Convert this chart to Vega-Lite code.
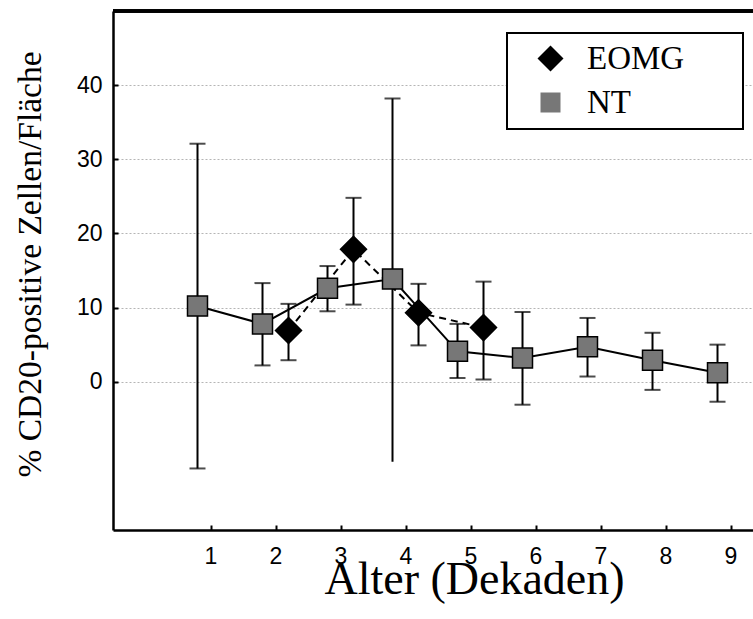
{
  "$schema": "https://vega.github.io/schema/vega-lite/v6.json",
  "autosize": "none",
  "width": 640,
  "height": 519,
  "padding": {"left": 113, "top": 11, "right": 0, "bottom": 89},
  "background": "white",
  "data": {
    "values": [
      {"group": "NT", "x": 0.8, "y": 10.2, "lo": -11.7, "hi": 32.1},
      {"group": "NT", "x": 1.8, "y": 7.8, "lo": 2.2, "hi": 13.3},
      {"group": "NT", "x": 2.8, "y": 12.6, "lo": 9.5, "hi": 15.6},
      {"group": "NT", "x": 3.8, "y": 13.85, "lo": -10.8, "hi": 38.2},
      {"group": "NT", "x": 4.8, "y": 4.1, "lo": 0.5, "hi": 7.8},
      {"group": "NT", "x": 5.8, "y": 3.2, "lo": -3.1, "hi": 9.4},
      {"group": "NT", "x": 6.8, "y": 4.7, "lo": 0.7, "hi": 8.6},
      {"group": "NT", "x": 7.8, "y": 2.9, "lo": -1.1, "hi": 6.6},
      {"group": "NT", "x": 8.8, "y": 1.2, "lo": -2.7, "hi": 5.0},
      {"group": "EOMG", "x": 2.2, "y": 6.9, "lo": 2.9, "hi": 10.5},
      {"group": "EOMG", "x": 3.2, "y": 17.85, "lo": 10.4, "hi": 24.8},
      {"group": "EOMG", "x": 4.2, "y": 9.3, "lo": 4.9, "hi": 13.2},
      {"group": "EOMG", "x": 5.2, "y": 7.3, "lo": 0.3, "hi": 13.5}
    ]
  },
  "layer": [
    {
      "mark": {"type": "rule", "color": "black", "strokeWidth": 2},
      "encoding": {
        "x": {"field": "x", "type": "quantitative", "scale": {"domain": [-0.5, 9.346], "nice": false, "zero": false},
          "axis": {"values": [1,2,3,4,5,6,7,8,9], "format": "d", "title": "Alter (Dekaden)", "grid": false,
            "titleX": 361, "titleY": 63, "titleAlign": "center", "titleBaseline": "alphabetic",
            "titleFont": "Liberation Serif", "titleFontSize": 46, "titleFontWeight": "normal", "titleColor": "black",
            "labelPadding": 20}},
        "y": {"field": "lo", "type": "quantitative", "scale": {"domain": [-20, 50], "nice": false, "zero": false},
          "axis": {"values": [0,10,20,30,40], "format": "d", "title": "% CD20-positive Zellen/Fläche", "grid": true,
            "titleX": -73, "titleY": 253, "titleAngle": -90, "titleAlign": "center", "titleBaseline": "alphabetic",
            "titleFont": "Liberation Serif", "titleFontSize": 33.5, "titleFontWeight": "normal", "titleColor": "black",
            "labelPadding": 16}},
        "y2": {"field": "hi"}
      }
    },
    {
      "mark": {"type": "tick", "orient": "horizontal", "color": "black", "size": 16, "thickness": 2},
      "encoding": {
        "x": {"field": "x", "type": "quantitative"},
        "y": {"field": "hi", "type": "quantitative"}
      }
    },
    {
      "transform": [{"filter": "datum.x != 3.8"}],
      "mark": {"type": "tick", "orient": "horizontal", "color": "black", "size": 16, "thickness": 2},
      "encoding": {
        "x": {"field": "x", "type": "quantitative"},
        "y": {"field": "lo", "type": "quantitative"}
      }
    },
    {
      "transform": [{"filter": "datum.group == 'NT'"}],
      "mark": {"type": "line", "color": "black", "strokeWidth": 2},
      "encoding": {
        "x": {"field": "x", "type": "quantitative"},
        "y": {"field": "y", "type": "quantitative"}
      }
    },
    {
      "transform": [{"filter": "datum.group == 'EOMG'"}],
      "mark": {"type": "line", "color": "black", "strokeWidth": 2, "strokeDash": [7, 5]},
      "encoding": {
        "x": {"field": "x", "type": "quantitative"},
        "y": {"field": "y", "type": "quantitative"}
      }
    },
    {
      "mark": {"type": "point", "filled": true, "stroke": "black", "strokeWidth": 1.5, "opacity": 1},
      "encoding": {
        "x": {"field": "x", "type": "quantitative"},
        "y": {"field": "y", "type": "quantitative"},
        "color": {"field": "group", "type": "nominal", "scale": {"domain": ["EOMG", "NT"], "range": ["black", "#777777"]},
          "legend": {"title": null, "labelExpr": "datum.label + '\u00a0\u00a0\u00a0\u00a0\u00a0\u00a0\u200b'"}},
        "shape": {"field": "group", "type": "nominal", "scale": {"domain": ["EOMG", "NT"], "range": ["diamond", "square"]},
          "legend": {"title": null, "labelExpr": "datum.label + '\u00a0\u00a0\u00a0\u00a0\u00a0\u00a0\u200b'"}},
        "size": {"field": "group", "type": "nominal", "scale": {"domain": ["EOMG", "NT"], "range": [676, 400]},
          "legend": {"title": null, "labelExpr": "datum.label + '\u00a0\u00a0\u00a0\u00a0\u00a0\u00a0\u200b'"}}
      }
    },
    {
      "mark": {"type": "rule", "color": "black", "strokeWidth": 2.5},
      "encoding": {"y": {"datum": 50}}
    }
  ],
  "config": {
    "view": {"stroke": null},
    "axis": {
      "domainColor": "black", "domainWidth": 2.5,
      "tickColor": "black", "tickWidth": 2, "tickSize": -5,
      "labelFont": "Liberation Sans", "labelFontSize": 23, "labelColor": "black",
      "titleFont": "Liberation Serif", "titleFontWeight": "normal", "titleColor": "black",
      "gridColor": "#b5b5b5", "gridDash": [2, 2], "gridWidth": 1
    },
    "legend": {
      "orient": "none", "legendX": 394, "legendY": 22,
      "padding": 9, "strokeColor": "black", "strokeWidth": 2, "fillColor": "white",
      "labelFont": "Liberation Serif", "labelFontSize": 33, "labelColor": "black",
      "labelOffset": 20, "symbolOffset": 18, "rowPadding": 10,
      "symbolStrokeColor": "black", "symbolStrokeWidth": 1.5, "symbolOpacity": 1
    }
  }
}
